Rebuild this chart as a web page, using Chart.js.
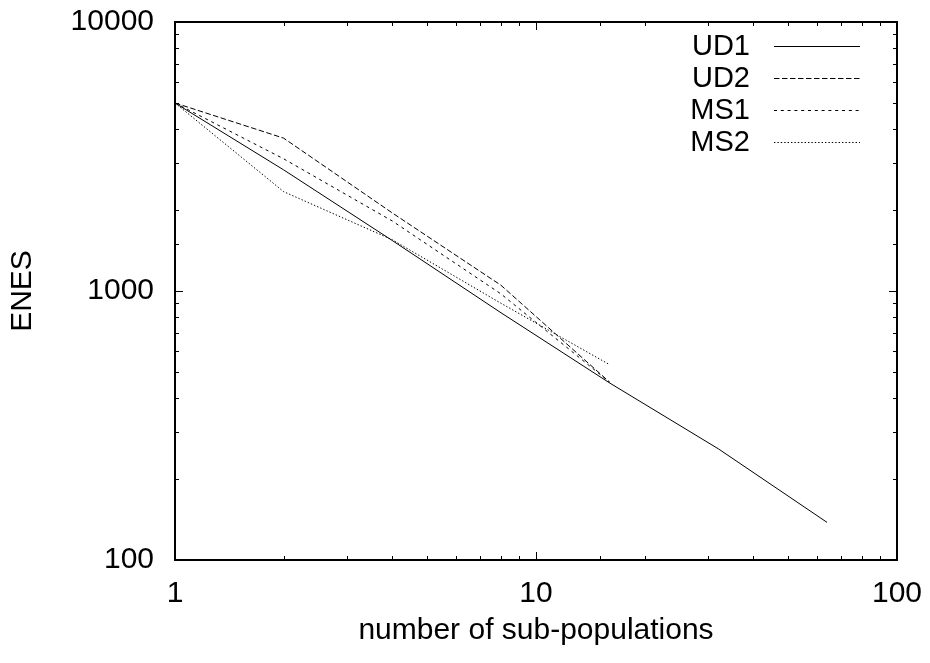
<!DOCTYPE html>
<html>
<head>
<meta charset="utf-8">
<script src="https://cdn.jsdelivr.net/npm/chart.js@4/dist/chart.umd.min.js"></script>
<style>
  html, body { margin: 0; padding: 0; background: #fff; }
  #wrap { width: 930px; height: 663px; }
</style>
</head>
<body>
<div id="wrap"><canvas id="enesChart" width="930" height="663"></canvas></div>
<script>
// sub-population counts (x) and ENES values per run
var subPops = [1, 2, 4, 8, 16, 32, 64];
var ud1 = [5000, 2820, 1540, 830, 455, 259, 138];
var ud2 = [5000, 3700, 1950, 1050, 458];
var ms1 = [5000, 3100, 1820, 975, 458];
var ms2 = [5000, 2340, 1550, 900, 532];

var seriesNames = ['UD1', 'UD2', 'MS1', 'MS2'];
var seriesData = [ud1, ud2, ms1, ms2];
var seriesDash = [[], [5.5, 2.5], [3, 3.8], [1.4, 2]];

var xLabels = [1, 10, 100];
var yLabels = [100, 1000, 10000];

var FONT = "'Liberation Sans', Arial, Helvetica, sans-serif";

function points(arr) {
    return arr.map(function (v, i) { return { x: subPops[i], y: v }; });
}

function isDecade(v) {
    var l = Math.log10(v);
    return Math.abs(l - Math.round(l)) < 1e-9;
}

// labels may hang outside the plot box, don't let them shrink it
function noPad(s) {
    s.paddingTop = 0; s.paddingBottom = 0;
    s.paddingLeft = 0; s.paddingRight = 0;
}

// gnuplot style frame with inward ticks on all four sides
var framePlugin = {
    id: 'frame',
    afterDatasetsDraw: function (chart) {
        var c = chart.ctx, a = chart.chartArea;
        var xs = chart.scales.x, ys = chart.scales.y;
        c.save();
        c.strokeStyle = '#000';
        c.lineWidth = 1;
        c.beginPath();
        xs.ticks.forEach(function (t) {
            var px = Math.round(xs.getPixelForValue(t.value)) + 0.5;
            var len = isDecade(t.value) ? 8 : 4;
            c.moveTo(px, a.bottom); c.lineTo(px, a.bottom - len);
            c.moveTo(px, a.top); c.lineTo(px, a.top + len);
        });
        ys.ticks.forEach(function (t) {
            var py = Math.round(ys.getPixelForValue(t.value)) + 0.5;
            var len = isDecade(t.value) ? 8 : 4;
            c.moveTo(a.left, py); c.lineTo(a.left + len, py);
            c.moveTo(a.right, py); c.lineTo(a.right - len, py);
        });
        c.stroke();
        c.lineWidth = 2;
        c.strokeRect(a.left, a.top, a.right - a.left, a.bottom - a.top);

        // key, top right
        c.font = '29px ' + FONT;
        c.fillStyle = '#000';
        c.textAlign = 'right';
        c.textBaseline = 'middle';
        c.lineWidth = 1;
        chart.data.datasets.forEach(function (ds, i) {
            var y = 46 + i * 32;
            c.fillText(ds.label, 750, y + 1);
            c.setLineDash(ds.borderDash);
            c.beginPath();
            c.moveTo(774, y + 0.5);
            c.lineTo(860, y + 0.5);
            c.stroke();
        });
        c.restore();
    }
};

var ctx = document.getElementById('enesChart').getContext('2d');
var enesChart = new Chart(ctx, {
    type: 'line',
    data: {
        datasets: seriesNames.map(function (name, i) {
            return {
                label: name,
                data: points(seriesData[i]),
                borderColor: '#000',
                borderWidth: 1,
                borderDash: seriesDash[i],
                pointRadius: 0,
                fill: false,
                tension: 0
            };
        })
    },
    options: {
        responsive: false,
        animation: false,
        layout: { padding: { top: 22, right: 33, left: 0, bottom: 0 } },
        plugins: {
            legend: { display: false },
            tooltip: { enabled: false }
        },
        scales: {
            x: {
                type: 'logarithmic',
                min: 1,
                max: 100,
                grid: { display: false, drawTicks: false },
                border: { display: false },
                afterFit: function (s) { s.height = 103; noPad(s); },
                ticks: {
                    autoSkip: false,
                    maxRotation: 0,
                    padding: 16,
                    color: '#000',
                    font: { family: FONT, size: 30 },
                    callback: function (v) { return xLabels.indexOf(v) >= 0 ? String(v) : ''; }
                },
                title: {
                    display: true,
                    text: 'number of sub-populations',
                    color: '#000',
                    font: { family: FONT, size: 30 },
                    padding: { top: 0, bottom: 14 }
                }
            },
            y: {
                type: 'logarithmic',
                min: 100,
                max: 10000,
                grid: { display: false, drawTicks: false },
                border: { display: false },
                afterFit: function (s) { s.width = 175; noPad(s); },
                ticks: {
                    autoSkip: false,
                    padding: 21,
                    color: '#000',
                    font: { family: FONT, size: 30 },
                    callback: function (v) { return yLabels.indexOf(v) >= 0 ? String(v) : ''; }
                },
                title: {
                    display: true,
                    text: 'ENES',
                    color: '#000',
                    font: { family: FONT, size: 30 },
                    padding: { top: 5, bottom: 0 }
                }
            }
        }
    },
    plugins: [framePlugin]
});
</script>
</body>
</html>
